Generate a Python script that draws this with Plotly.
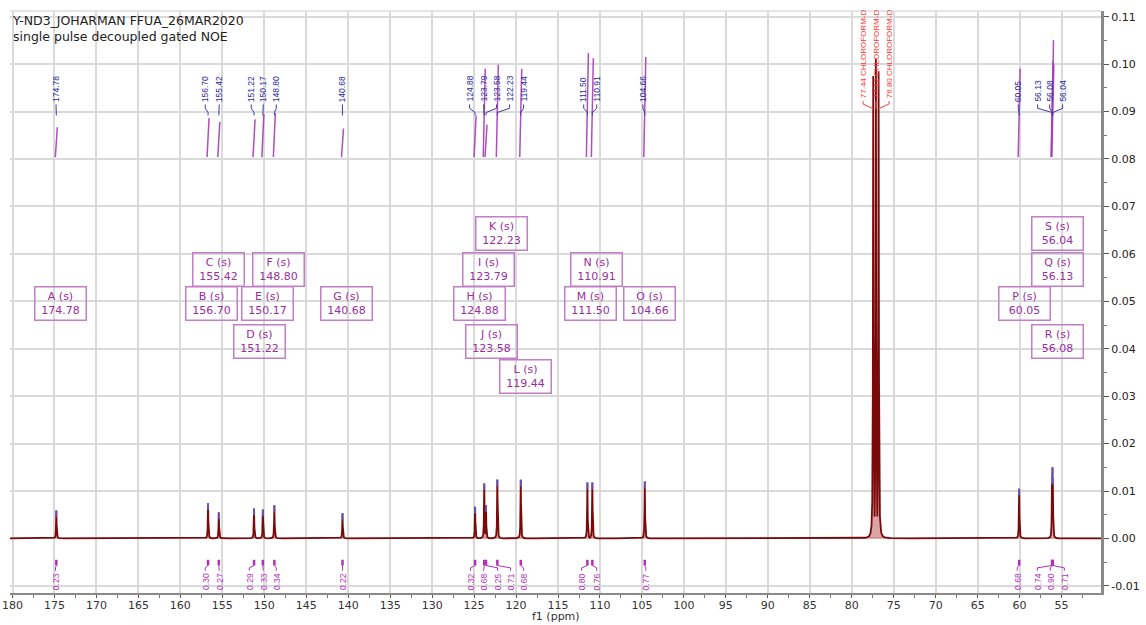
import numpy as np
import plotly.graph_objects as go

# ---- 13C spectrum: peak list (ppm, height) ----
peak_ppm = [174.78, 156.70, 155.42, 151.22, 150.17, 148.80, 140.68,
            124.88, 123.79, 123.58, 122.23, 119.44, 111.50, 110.91, 104.66,
            60.05, 56.13, 56.08, 56.04]
peak_height = [0.0059, 0.0074, 0.0055, 0.0063, 0.0061, 0.0070, 0.0053,
               0.0067, 0.0116, 0.0070, 0.0124, 0.0124, 0.0118, 0.0118, 0.0120,
               0.0105, 0.0135, 0.0150, 0.0128]
# where each rotated ppm label sits (spread out to avoid overlap)
peak_label_ppm = [174.82, 157.04, 155.37, 151.55, 150.12, 148.57, 140.69,
                  125.54, 123.87, 122.32, 120.77, 119.10, 111.94, 110.39, 104.88,
                  60.16, 57.85, 56.42, 54.87]

# solvent triplet
solvent_ppm = [77.44, 77.12, 76.80]
solvent_height = [0.0975, 0.1012, 0.0985]
solvent_label_ppm = [78.65, 77.10, 75.55]
solvent_name = "CHLOROFORM-D"

# integrals (one per peak in peak_ppm)
integral_value = [0.23, 0.30, 0.27, 0.29, 0.33, 0.34, 0.22,
                  0.32, 0.68, 0.25, 0.71, 0.68, 0.80, 0.76, 0.77,
                  0.68, 0.74, 0.90, 0.71]
integral_label_ppm = [174.88, 157.04, 155.37, 151.79, 150.12, 148.57, 140.69,
                      125.42, 123.87, 122.20, 120.65, 119.10, 112.18, 110.39, 104.54,
                      60.28, 57.89, 56.34, 54.67]

# multiplet report boxes: letter, box centre (ppm, y)
multiplet_letter = list("ABCDEFGHIJKLMNOPQRS")
multiplet_box_ppm = [174.34, 156.33, 155.49, 150.60, 149.64, 148.33, 140.22,
                     124.35, 123.28, 122.92, 121.73, 118.86, 111.10, 110.39, 104.07,
                     59.44, 55.50, 55.50, 55.50]
multiplet_box_y = [0.0496, 0.0496, 0.0568, 0.0416, 0.0496, 0.0568, 0.0496,
                   0.0496, 0.0568, 0.0416, 0.0642, 0.0342, 0.0496, 0.0568, 0.0496,
                   0.0496, 0.0568, 0.0416, 0.0642]

x_range = [180.3, 50.3]
y_range = [-0.0115, 0.1112]
y_ticks = [-0.01, 0.00, 0.01, 0.02, 0.03, 0.04, 0.05, 0.06, 0.07, 0.08, 0.09, 0.10, 0.11]

# ---- build spectrum trace from the peak list (Lorentzian lines) ----
all_ppm = np.array(peak_ppm + solvent_ppm)
all_h = np.array(peak_height + solvent_height)
hwhm = 0.035
grid = [np.arange(x_range[1], x_range[0] + 0.001, 0.05)]
for p in all_ppm:
    grid.append(np.arange(p - 0.6, p + 0.6, 0.004))
grid.append(all_ppm)
ppm = np.unique(np.round(np.concatenate(grid), 4))[::-1]
spec = np.max([h / (1 + ((ppm - p) / hwhm) ** 2) for p, h in zip(all_ppm, all_h)], axis=0)

fig = go.Figure()

fig.add_trace(go.Scatter(
    x=ppm, y=spec, mode="lines",
    line=dict(color="#7a0a0a", width=1.8),
    fill="tozeroy", fillcolor="rgba(175,50,50,0.45)",
    hoverinfo="skip"))

# peak-top markers
tx, ty = [], []
for p, h in zip(peak_ppm, peak_height):
    tx += [p, p, None]
    ty += [h - 0.0014, h, None]
fig.add_trace(go.Scatter(x=tx, y=ty, mode="lines",
                         line=dict(color="rgba(95,95,215,0.85)", width=2),
                         hoverinfo="skip"))

# integral curves
int_base = 0.0804
int_scale = 0.0274
ix, iy = [], []
for p, v in zip(peak_ppm, integral_value):
    ix += [p + 0.12, p - 0.12, None]
    iy += [int_base, int_base + v * int_scale, None]
fig.add_trace(go.Scatter(x=ix, y=iy, mode="lines",
                         line=dict(color="rgba(165,60,180,0.9)", width=1.5),
                         hoverinfo="skip"))

# peak label leaders (blue)
lx, ly = [], []
for p, lp in zip(peak_ppm, peak_label_ppm):
    lx += [lp, lp, p, p, None]
    ly += [0.0915, 0.0907, 0.0898, 0.0892, None]
fig.add_trace(go.Scatter(x=lx, y=ly, mode="lines",
                         line=dict(color="#3a3aa8", width=1), hoverinfo="skip"))

# solvent label leaders (red)
sx, sy = [], []
for p, lp in zip(solvent_ppm, solvent_label_ppm):
    sx += [lp, lp, p, None]
    sy += [0.0922, 0.0916, 0.0906, None]
fig.add_trace(go.Scatter(x=sx, y=sy, mode="lines",
                         line=dict(color="#ff4040", width=1), hoverinfo="skip"))

# integral label leaders and markers (magenta)
gx, gy, mx, my = [], [], [], []
for p, lp in zip(peak_ppm, integral_label_ppm):
    gx += [lp, lp, p, None]
    gy += [-0.0068, -0.0062, -0.0057, None]
    mx += [p, p, None]
    my += [-0.0057, -0.0045, None]
fig.add_trace(go.Scatter(x=gx, y=gy, mode="lines",
                         line=dict(color="#b030b8", width=1), hoverinfo="skip"))
fig.add_trace(go.Scatter(x=mx, y=my, mode="lines",
                         line=dict(color="#b030b8", width=2.5), hoverinfo="skip"))

annotations = []
label_font = "Liberation Sans, Arial, sans-serif"
for p, lp in zip(peak_ppm, peak_label_ppm):
    annotations.append(dict(x=lp, y=0.0916, xref="x", yref="y", text=f"{p:.2f}",
                            textangle=-90, showarrow=False, xanchor="center", yanchor="bottom",
                            font=dict(family=label_font, size=8.5, color="#2a2a9c")))
for p, lp in zip(solvent_ppm, solvent_label_ppm):
    annotations.append(dict(x=lp, y=0.0923, xref="x", yref="y", text=f"{p:.2f} {solvent_name}",
                            textangle=-90, showarrow=False, xanchor="center", yanchor="bottom",
                            font=dict(family=label_font, size=8, color="#ff3535")))
for v, lp in zip(integral_value, integral_label_ppm):
    annotations.append(dict(x=lp, y=-0.0069, xref="x", yref="y", text=f"{v:.2f}",
                            textangle=-90, showarrow=False, xanchor="center", yanchor="top",
                            font=dict(family=label_font, size=8.5, color="#b030b8")))
for letter, p, bx, by in zip(multiplet_letter, peak_ppm, multiplet_box_ppm, multiplet_box_y):
    annotations.append(dict(x=bx, y=by, xref="x", yref="y", text=f"{letter} (s)<br>{p:.2f}",
                            showarrow=False, xanchor="center", yanchor="middle",
                            width=46, height=28, borderpad=2, borderwidth=1.5,
                            bordercolor="#c27ec6", bgcolor="rgba(0,0,0,0)",
                            font=dict(family="DejaVu Sans, Verdana, sans-serif", size=11,
                                      color="#9a2e9e")))
annotations.append(dict(x=0, y=1.0, xref="paper", yref="paper", xanchor="left", yanchor="top",
                        showarrow=False, align="left",
                        text="Y-ND3_JOHARMAN FFUA_26MAR2020<br>single pulse decoupled gated NOE",
                        font=dict(family="DejaVu Sans, Verdana, sans-serif", size=12.5, color="#222")))
annotations.append(dict(x=0.5, y=-0.0557, xref="paper", yref="paper", xanchor="center",
                        yanchor="bottom", showarrow=False, text="f1 (ppm)",
                        font=dict(family="DejaVu Sans, Verdana, sans-serif", size=11, color="#333")))

fig.update_layout(
    width=1146, height=625,
    margin=dict(l=10, r=45, t=11, b=32),
    paper_bgcolor="white", plot_bgcolor="white",
    showlegend=False,
    annotations=annotations,
    shapes=[dict(type="line", xref="paper", yref="paper", x0=0, x1=1, y0=1, y1=1,
                 line=dict(color="#dcdcdc", width=1.5))],
)
fig.update_xaxes(
    range=x_range, tickmode="linear", tick0=0, dtick=5, automargin=False,
    ticks="outside", ticklen=3, tickcolor="#555", tickwidth=1, ticklabelstandoff=-2,
    minor=dict(tickmode="linear", tick0=0, dtick=2.5, ticks="outside", ticklen=3,
               tickcolor="#777", showgrid=False),
    showline=True, linecolor="#8a8a8a", linewidth=2,
    showgrid=True, gridcolor="#dadada", gridwidth=1.5, zeroline=False,
    tickfont=dict(family="DejaVu Sans, Verdana, sans-serif", size=11, color="#333"),
)
fig.update_yaxes(
    range=y_range, side="right", tickmode="array", automargin=False,
    tickvals=y_ticks, ticktext=[f"{v:.2f}" for v in y_ticks],
    ticks="outside", ticklen=5, tickcolor="#555", tickwidth=1,
    minor=dict(tickmode="linear", tick0=0, dtick=0.005, ticks="outside", ticklen=3,
               tickcolor="#777", showgrid=False),
    showline=True, linecolor="#8a8a8a", linewidth=3,
    showgrid=True, gridcolor="#dadada", gridwidth=1.5, zeroline=False,
    tickfont=dict(family="DejaVu Sans, Verdana, sans-serif", size=11, color="#222"),
)

fig.write_html("out.html")
